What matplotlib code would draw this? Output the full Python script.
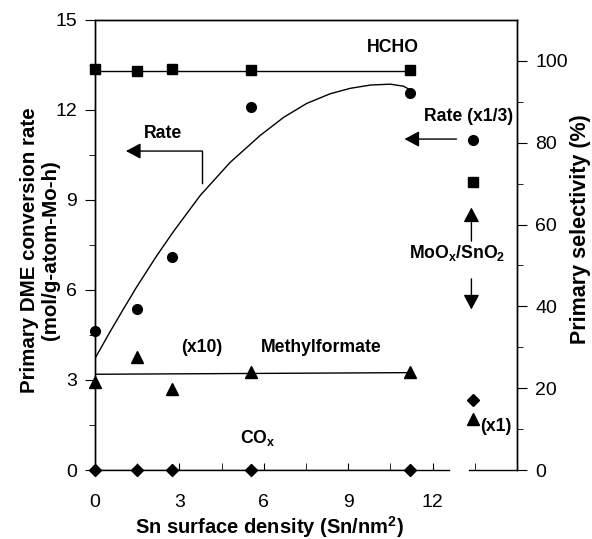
import numpy as np
import matplotlib
matplotlib.use('Agg')
from matplotlib import pyplot as plt

plt.rcParams['font.family'] = ['Liberation Sans', 'DejaVu Sans']
plt.rcParams['mathtext.default'] = 'regular'

# Sn surface density of the MoOx/SnO2-ZrO2 samples
sn = [0, 1.5, 2.75, 5.55, 11.2]
# primary DME conversion rate (left axis)
rate = [4.64, 5.36, 7.11, 12.1, 12.56]
# primary selectivities (%) (right axis)
hcho = [98.0, 97.4, 98.0, 97.7, 97.7]
mf_x10 = [21.5, 27.7, 19.9, 23.9, 23.9]
cox = [0, 0, 0, 0, 0]
# trend lines
curve_x = [0, 0.53, 1.0, 1.48, 2.2, 2.79, 3.74, 4.8, 5.87, 6.7, 7.53, 8.36, 9.07, 9.79, 10.5, 10.97, 11.14]
curve_y = [3.72, 4.6, 5.35, 6.1, 7.15, 7.95, 9.15, 10.25, 11.15, 11.75, 12.22, 12.54, 12.72, 12.83, 12.86, 12.79, 12.7]
hcho_line = [97.6, 97.6]
mf_line = [23.4, 23.8]
line_x = [0, 11.2]
# MoOx/SnO2 reference sample
ref_x = 13.45
ref_rate_third = 11.0
ref_hcho = 70.3
ref_cox = 17.1
ref_mf = 12.5

fig = plt.figure(figsize=(5.92, 5.39), dpi=100)
ax = fig.add_axes([0.1605, 0.128, 0.7128, 0.835])
ax2 = ax.twinx()

ax.set_xlim(0, 15)
ax.set_ylim(0, 15)
ax2.set_ylim(0, 110)

ax.plot(curve_x, curve_y, color='black', lw=1.0)
ax.plot(sn, rate, 'o', color='black', ms=7, clip_on=False)
ax.plot(ref_x, ref_rate_third, 'o', color='black', ms=7)

ax2.plot(line_x, hcho_line, color='black', lw=1.0)
ax2.plot(sn, hcho, 's', color='black', ms=7.5, clip_on=False)
ax2.plot(line_x, mf_line, color='black', lw=1.0)
ax2.plot(sn, mf_x10, '^', color='black', ms=8, clip_on=False)
ax2.plot(line_x, [0, 0], color='black', lw=1.0)
ax2.plot(sn, cox, 'D', color='black', ms=6.5, clip_on=False)
ax2.plot(ref_x, ref_hcho, 's', color='black', ms=7.5)
ax2.plot(ref_x, ref_cox, 'D', color='black', ms=6.5)
ax2.plot(ref_x, ref_mf, '^', color='black', ms=8)

# broken x axis
ax.spines['bottom'].set_bounds(0, 12.6)
ax2.spines['bottom'].set_visible(False)
ax.plot([13.3, 15], [0, 0], color='black', lw=1.0, clip_on=False)
for s in ax.spines.values():
    s.set_linewidth(1.0)
for s in ax2.spines.values():
    s.set_linewidth(1.0)

ax.set_xticks([0, 3, 6, 9, 12])
ax.set_xticks(np.arange(1.5, 14, 1.5), minor=True)
ax.set_yticks([0, 3, 6, 9, 12, 15])
ax.set_yticks([1.5, 4.5, 7.5, 10.5, 13.5], minor=True)
ax2.set_yticks([0, 20, 40, 60, 80, 100])
ax2.set_yticks([10, 30, 50, 70, 90], minor=True)

ax.tick_params(axis='x', which='both', direction='in', length=5, pad=17, labelsize=14, top=False)
ax.tick_params(axis='y', which='major', direction='out', length=7, pad=6, labelsize=14)
ax.tick_params(axis='y', which='minor', direction='out', length=4)
ax2.tick_params(axis='y', which='major', direction='out', length=7, pad=6, labelsize=14)
ax2.tick_params(axis='y', which='minor', direction='out', length=4)
ax2.tick_params(axis='x', which='both', bottom=False, top=False)

fig.text(0.456, 0.022, 'Sn surface density (Sn/nm$^2$)', fontsize=14.5,
         fontweight='bold', ha='center', va='center')
fig.text(0.049, 0.536, 'Primary DME conversion rate', rotation=90, fontsize=14.8,
         fontweight='bold', ha='center', va='center')
fig.text(0.085, 0.536, '(mol/g-atom-Mo-h)', rotation=90, fontsize=14.8,
         fontweight='bold', ha='center', va='center')
fig.text(0.98, 0.575, 'Primary selectivity (%)', rotation=90, fontsize=15.5,
         fontweight='bold', ha='center', va='center')

# annotations
tf = dict(fontsize=12.7, fontweight='bold', ha='center', va='center')
ax.text(10.6, 14.07, 'HCHO', **tf)
ax.text(2.42, 11.2, 'Rate', **tf)
ax.text(13.27, 11.77, 'Rate (x1/3)', **tf)
ax.text(12.88, 7.23, 'MoO$_x$/SnO$_2$', **tf)
ax.text(3.81, 4.07, '(x10)', **tf)
ax.text(8.04, 4.07, 'Methylformate', **tf)
ax.text(5.77, 1.07, 'CO$_x$', **tf)
ax.text(13.68, 1.45, '(x1)', fontsize=12.7, fontweight='bold', ha='left', va='center')

astyle = dict(arrowstyle='-|>,head_length=0.45,head_width=0.24', color='black',
              lw=1.0, mutation_scale=20, shrinkA=0, shrinkB=0)
ax.plot([3.81, 3.81], [9.57, 10.63], color='black', lw=1.0)
ax.annotate('', xy=(1.1, 10.63), xytext=(3.81, 10.63), arrowprops=astyle)
ax.annotate('', xy=(11.0, 11.03), xytext=(12.85, 11.03), arrowprops=astyle)
ax.annotate('', xy=(13.38, 8.75), xytext=(13.38, 7.63), arrowprops=astyle)
ax.annotate('', xy=(13.38, 5.35), xytext=(13.38, 6.37), arrowprops=astyle)

fig.savefig('out.png', dpi=100)
